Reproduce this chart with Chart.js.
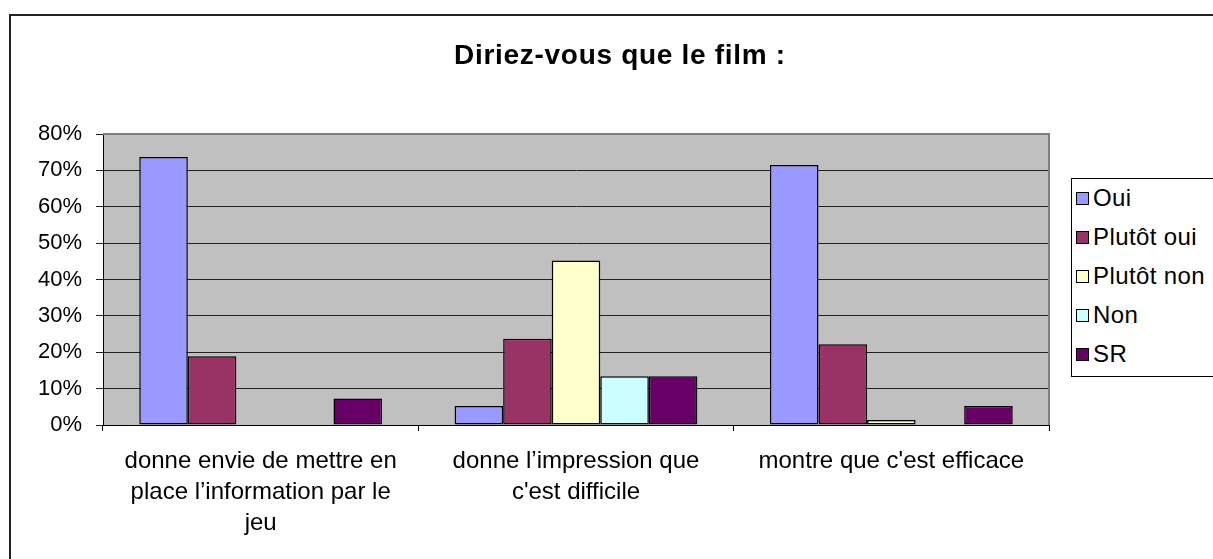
<!DOCTYPE html>
<html><head><meta charset="utf-8">
<script src="https://cdn.jsdelivr.net/npm/chart.js@4.4.1/dist/chart.umd.min.js"></script>
<style>
html,body{margin:0;padding:0;background:#fff;}
#wrap{position:relative;width:1213px;height:559px;overflow:hidden;font-family:"Liberation Sans",Arial,sans-serif;background:#fff;}
#frame{position:absolute;left:9px;top:14px;width:1300px;height:700px;border-left:2px solid #222;border-top:2px solid #222;box-sizing:border-box;}
#c{position:absolute;left:0;top:0;}
#title{position:absolute;left:0;width:1240px;top:39px;text-align:center;font-weight:bold;font-size:28px;letter-spacing:0.7px;line-height:32px;color:#000;}
#legend{position:absolute;left:1071px;top:178px;width:200px;height:199px;border:1px solid #000;background:#fff;box-sizing:border-box;}
.item{position:absolute;left:4px;height:26px;display:flex;align-items:center;font-size:24px;letter-spacing:0.4px;color:#000;white-space:nowrap;}
.sw{width:11px;height:11px;border:1px solid #000;margin-right:4px;}
</style></head>
<body>
<div id="wrap">
  <div id="frame"></div>
  <canvas id="c" width="1213" height="559"></canvas>
  <div id="title"></div>
  <div id="legend"></div>
</div>
<script>
const chartTitle = "Diriez-vous que le film :";
const categories = [
  ["donne envie de mettre en", "place l\u2019information par le", "jeu"],
  ["donne l\u2019impression que", "c'est difficile"],
  ["montre que c'est efficace"]
];
const seriesNames = ["Oui", "Plutôt oui", "Plutôt non", "Non", "SR"];
const seriesColors = ["#9999FF", "#993366", "#FFFFCC", "#CCFFFF", "#660066"];
const oui        = [73.7, 5.2, 71.5];
const plutotOui  = [18.9, 23.7, 22.2];
const plutotNon  = [0, 45.2, 1.4];
const non        = [0, 13.4, 0];
const sr         = [7.3, 13.4, 5.2];
const seriesValues = [oui, plutotOui, plutotNon, non, sr];
const yTicks = [0, 10, 20, 30, 40, 50, 60, 70, 80];

document.getElementById('title').textContent = chartTitle;
const leg = document.getElementById('legend');
seriesNames.forEach((n, i) => {
  const d = document.createElement('div');
  d.className = 'item';
  d.style.top = (6 + i * 39) + 'px';
  const s = document.createElement('div');
  s.className = 'sw';
  s.style.background = seriesColors[i];
  const t = document.createElement('span');
  t.textContent = n;
  d.appendChild(s); d.appendChild(t);
  leg.appendChild(d);
});

const plotDeco = {
  id: 'plotDeco',
  beforeDraw(chart) {
    const {ctx, chartArea: a} = chart;
    ctx.save();
    ctx.fillStyle = '#C0C0C0';
    ctx.fillRect(a.left, a.top, a.right - a.left, a.bottom - a.top);
    ctx.restore();
  },
  afterDatasetsDraw(chart) {
    const {ctx, chartArea: a} = chart;
    ctx.save();
    ctx.strokeStyle = '#808080';
    ctx.lineWidth = 2;
    ctx.beginPath();
    ctx.moveTo(a.left, a.top);
    ctx.lineTo(a.right, a.top);
    ctx.lineTo(a.right, a.bottom);
    ctx.stroke();
    ctx.restore();
  }
};

Chart.defaults.font.family = '"Liberation Sans", Arial, sans-serif';
Chart.defaults.color = '#000';

new Chart(document.getElementById('c'), {
  type: 'bar',
  data: {
    labels: categories,
    datasets: seriesNames.map((n, i) => ({
      label: n,
      data: seriesValues[i],
      backgroundColor: seriesColors[i],
      borderColor: '#000',
      borderWidth: 1.5,
      borderSkipped: false,
      categoryPercentage: 0.77,
      barPercentage: 1.0
    }))
  },
  options: {
    responsive: false,
    devicePixelRatio: 1,
    animation: false,
    layout: { padding: { left: 0, right: 164, top: 134, bottom: 0 } },
    plugins: { legend: { display: false }, title: { display: false }, tooltip: { enabled: false } },
    scales: {
      x: {
        grid: { offset: true, drawOnChartArea: false, drawTicks: true, tickLength: 6, color: '#000' },
        border: { color: '#000', width: 1 },
        ticks: { font: { size: 24, lineHeight: 31/24 }, padding: 15, maxRotation: 0, autoSkip: false, color: '#000' },
        afterFit(s) { s.height = 134; }
      },
      y: {
        min: 0, max: 80,
        afterBuildTicks(s) { s.ticks = yTicks.map(v => ({ value: v })); },
        grid: { color: '#222', lineWidth: 1, tickLength: 7 },
        border: { color: '#000', width: 1 },
        ticks: { font: { size: 22 }, padding: 14, color: '#000', callback: v => v + '%' },
        afterFit(s) { s.width = 103; }
      }
    }
  },
  plugins: [plotDeco]
});
</script>
</body></html>
